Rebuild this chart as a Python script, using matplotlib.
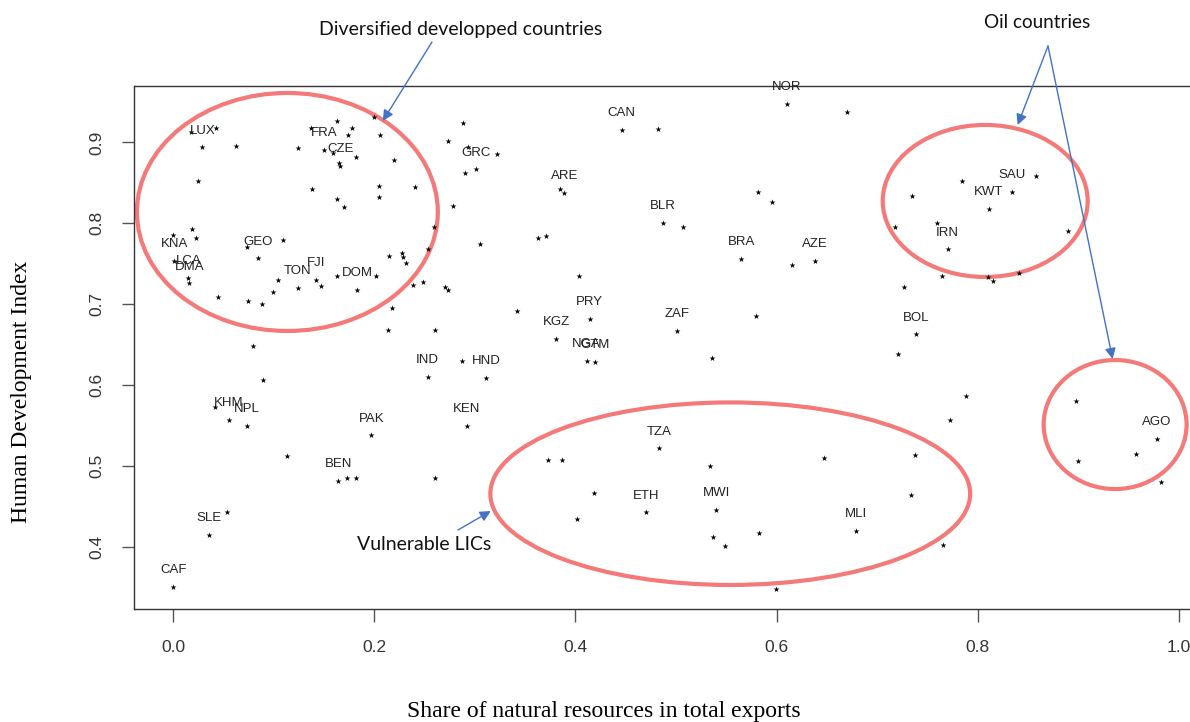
import matplotlib
matplotlib.use("Agg")
import matplotlib.pyplot as plt
from matplotlib.patches import Ellipse

# ---------------- data ----------------
label_codes = ["LUX", "KNA", "LCA", "DMA", "GEO", "FJI", "TON", "DOM", "FRA", "CZE",
               "GRC", "ARE", "CAN", "NOR", "BLR", "BRA", "AZE", "SAU", "KWT", "IRN",
               "BOL", "PRY", "KGZ", "NGA", "GTM", "ZAF", "IND", "HND", "KEN", "PAK",
               "KHM", "NPL", "BEN", "SLE", "CAF", "TZA", "ETH", "MWI", "MLI", "AGO"]
label_share = [0.029, 0.001, 0.015, 0.016, 0.084, 0.142, 0.124, 0.183, 0.150, 0.166,
               0.301, 0.389, 0.446, 0.610, 0.487, 0.565, 0.638, 0.834, 0.811, 0.770,
               0.739, 0.414, 0.381, 0.411, 0.419, 0.501, 0.253, 0.311, 0.292, 0.197,
               0.055, 0.073, 0.164, 0.036, 0.000, 0.483, 0.470, 0.540, 0.679, 0.978]
label_hdi = [0.894, 0.754, 0.733, 0.726, 0.757, 0.730, 0.720, 0.718, 0.891, 0.871,
             0.867, 0.838, 0.916, 0.948, 0.801, 0.756, 0.754, 0.839, 0.818, 0.768,
             0.663, 0.682, 0.657, 0.630, 0.629, 0.667, 0.610, 0.609, 0.550, 0.538,
             0.557, 0.550, 0.482, 0.415, 0.351, 0.522, 0.443, 0.446, 0.420, 0.534]

other_share = [0.018, 0.043, 0.062, 0.025, 0.000, 0.019, 0.023, 0.073, 0.109, 0.147,
               0.104, 0.099, 0.088, 0.074, 0.045, 0.163, 0.202, 0.218, 0.215, 0.227,
               0.228, 0.231, 0.238, 0.248, 0.270, 0.273, 0.253, 0.259, 0.278, 0.137,
               0.163, 0.178, 0.174, 0.206, 0.200, 0.124, 0.159, 0.165, 0.182, 0.220,
               0.273, 0.138, 0.163, 0.170, 0.205, 0.205, 0.240, 0.214, 0.260, 0.079,
               0.089, 0.042, 0.113, 0.173, 0.182, 0.260, 0.053, 0.288, 0.293, 0.290,
               0.322, 0.385, 0.305, 0.363, 0.371, 0.403, 0.342, 0.287, 0.482, 0.507,
               0.536, 0.615, 0.581, 0.595, 0.579, 0.373, 0.387, 0.534, 0.647, 0.418,
               0.402, 0.537, 0.549, 0.582, 0.599, 0.670, 0.784, 0.735, 0.858, 0.718,
               0.759, 0.890, 0.764, 0.810, 0.815, 0.841, 0.727, 0.721, 0.788, 0.772,
               0.738, 0.734, 0.765, 0.898, 0.957, 0.900, 0.982]
other_hdi = [0.913, 0.918, 0.896, 0.852, 0.786, 0.793, 0.782, 0.771, 0.780, 0.723,
             0.730, 0.715, 0.700, 0.704, 0.709, 0.735, 0.735, 0.695, 0.760, 0.763,
             0.759, 0.751, 0.724, 0.728, 0.721, 0.718, 0.768, 0.796, 0.822, 0.918,
             0.927, 0.918, 0.909, 0.909, 0.932, 0.893, 0.887, 0.875, 0.882, 0.878,
             0.902, 0.843, 0.830, 0.820, 0.846, 0.833, 0.845, 0.668, 0.668, 0.649,
             0.606, 0.573, 0.513, 0.485, 0.485, 0.485, 0.443, 0.924, 0.894, 0.862,
             0.886, 0.843, 0.775, 0.782, 0.784, 0.735, 0.692, 0.630, 0.917, 0.796,
             0.634, 0.749, 0.839, 0.827, 0.686, 0.508, 0.508, 0.500, 0.510, 0.467,
             0.435, 0.412, 0.401, 0.417, 0.348, 0.938, 0.852, 0.834, 0.859, 0.796,
             0.801, 0.791, 0.735, 0.734, 0.729, 0.739, 0.721, 0.639, 0.587, 0.557,
             0.514, 0.464, 0.403, 0.581, 0.515, 0.506, 0.480]

x_ticks = [0.0, 0.2, 0.4, 0.6, 0.8, 1.0]
x_tick_labels = ["0.0", "0.2", "0.4", "0.6", "0.8", "1.0"]
y_ticks = [0.4, 0.5, 0.6, 0.7, 0.8, 0.9]
y_tick_labels = ["0.4", "0.5", "0.6", "0.7", "0.8", "0.9"]

# ---------------- figure ----------------
W, H = 1190, 722
fig = plt.figure(figsize=(W / 100, H / 100), dpi=100)
fig.patch.set_facecolor("white")

def fpx(px, py):
    return (px / W, 1 - py / H)

ax = fig.add_axes([134 / W, 1 - 608.5 / H, (1199 - 134) / W, (608.5 - 86) / H])
ax.set_xlim(-0.039, 1.02)
ax.set_ylim(0.324, 0.9698)

ax.scatter(other_share, other_hdi, marker="*", s=20, color="black", linewidths=0, zorder=3)
ax.scatter(label_share, label_hdi, marker="*", s=20, color="black", linewidths=0, zorder=3)
for code, xv, yv in zip(label_codes, label_share, label_hdi):
    ax.annotate(code, (xv, yv), xytext=(0, 12), textcoords="offset points",
                ha="center", va="center", fontsize=9.5, color="#222222",
                family="Liberation Sans", zorder=4)

ax.set_xticks(x_ticks)
ax.set_xticklabels(x_tick_labels)
ax.set_yticks(y_ticks)
ax.set_yticklabels(y_tick_labels, rotation=90, va="center")
ax.tick_params(axis="both", direction="out", length=9, width=1, color="#555555",
               labelsize=12.5, labelcolor="#333333")
ax.tick_params(axis="x", pad=14)
ax.tick_params(axis="y", pad=12)
for lab in ax.get_xticklabels() + ax.get_yticklabels():
    lab.set_family("Liberation Sans")
for s in ["left", "bottom", "top", "right"]:
    ax.spines[s].set_color("#333333")
    ax.spines[s].set_linewidth(1.0)

# axis titles
fig.text(*fpx(604, 711), "Share of natural resources in total exports",
         ha="center", va="center", fontsize=17, family="Liberation Serif", color="black")
fig.text(*fpx(22, 392), "Human Development Index", rotation=90,
         ha="center", va="center", fontsize=17, family="Liberation Serif", color="black")

# ellipses
red = "#F47A7A"
for (cx, cy, w, h) in [(0.1135, 0.8141, 0.2992, 0.2942),
                       (0.5539, 0.4659, 0.4771, 0.2256),
                       (0.8074, 0.8277, 0.2038, 0.1879),
                       (0.9366, 0.5514, 0.1421, 0.1595)]:
    ax.add_patch(Ellipse((cx, cy), w, h, fill=False, edgecolor=red, lw=3,
                         zorder=2, clip_on=False))

# annotations
blue = "#4472C4"
fig.text(*fpx(461, 29), "Diversified developped countries", ha="center", va="center",
         fontsize=14, family="Lato", color="#111111")
fig.text(*fpx(1037, 22), "Oil countries", ha="center", va="center",
         fontsize=13.6, family="Lato", color="#111111")
fig.text(*fpx(424, 545), "Vulnerable LICs", ha="center", va="center",
         fontsize=14, family="Lato", color="#111111")

arrows = [((432, 42), (0.2084, 0.9266)),
          ((1048, 46), (0.8397, 0.9216)),
          ((1048, 46), (0.9341, 0.6324)),
          ((458, 530), (0.3158, 0.4445))]
for tail, head in arrows:
    ax.annotate("", xy=head, xycoords="data", xytext=fpx(*tail),
                textcoords="figure fraction", annotation_clip=False,
                arrowprops=dict(arrowstyle="-|>", color=blue, lw=1,
                                mutation_scale=16, shrinkA=0, shrinkB=0),
                zorder=5)

fig.savefig("out.png", dpi=100)
